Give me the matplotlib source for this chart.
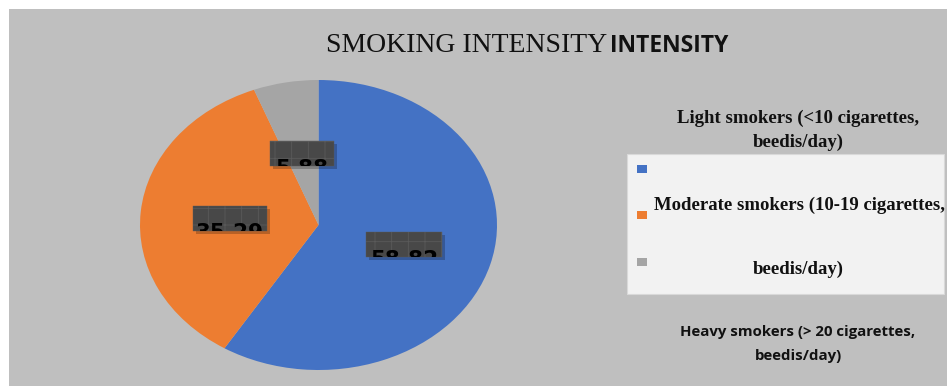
import matplotlib
matplotlib.use("Agg")
import matplotlib.pyplot as plt
from matplotlib.patches import Rectangle
from matplotlib.transforms import IdentityTransform

categories = ["Light smokers (<10 cigarettes, beedis/day)",
              "Moderate smokers (10-19 cigarettes, beedis/day)",
              "Heavy smokers (> 20 cigarettes, beedis/day)"]
values = [58.82, 35.29, 5.88]
value_labels = ["58.82", "35.29", "5.88"]
colors = ["#4472C4", "#ED7D31", "#A5A5A5"]

W, H = 947, 386
fig = plt.figure(figsize=(W / 100, H / 100), dpi=100)
fig.patch.set_facecolor("white")
plt.rcParams["hatch.linewidth"] = 0.6

def fx(x):
    return x / W

def fy(y):
    return 1 - y / H

# grey chart area
fig.add_artist(Rectangle((fx(9), 0), 1 - fx(9), fy(9), transform=fig.transFigure,
                         facecolor="#BFBFBF", edgecolor="none", zorder=0))

# pie (stretched to ellipse)
ax = fig.add_axes([fx(140), fy(370), fx(497) - fx(140), fy(80) - fy(370)])
ax.set_facecolor("none")
wedges, texts = ax.pie(values, colors=colors, startangle=90, counterclock=False,
                       labels=value_labels, labeldistance=0.5,
                       wedgeprops=dict(linewidth=0))
ax.set_aspect("auto")
ax.set_xlim(-1, 1)
ax.set_ylim(-1, 1)
ax.axis("off")

# data label boxes with clipped text
fig.canvas.draw()
widths = [76, 74, 64]
for t, w in zip(texts, widths):
    px, py = ax.transData.transform(t.get_position())
    bh = 25
    shadow = Rectangle((px - w / 2 + 3, py - bh / 2 - 3), w, bh, transform=IdentityTransform(),
                       facecolor="#000000", alpha=0.22, edgecolor="none", zorder=5)
    box = Rectangle((px - w / 2, py - bh / 2), w, bh, transform=IdentityTransform(),
                    facecolor="#484848", edgecolor="#5A5A5A", hatch="+", linewidth=0.3, zorder=6)
    fig.add_artist(shadow)
    fig.add_artist(box)
    t.set_visible(False)
    lab = fig.text(px / W, (py - 21) / H, t.get_text(), ha="center", va="baseline",
                   fontsize=15.5, fontweight="bold", color="black", family="DejaVu Sans", zorder=7)
    lab.set_clip_path(box)

# title
fig.text(fx(326), fy(52), "SMOKING INTENSITY", fontsize=20, family="Liberation Serif",
         color="#111111", va="baseline", ha="left")
fig.text(fx(610), fy(52), "INTENSITY", fontsize=16.5, family="Open Sans", fontweight="bold",
         color="#111111", va="baseline", ha="left")

# legend-like block
fig.add_artist(Rectangle((fx(627), fy(294)), fx(944) - fx(627), fy(154) - fy(294),
                         transform=fig.transFigure, facecolor="#F2F2F2",
                         edgecolor="#D9D9D9", linewidth=0.8, zorder=2))
for c, yy in zip(colors, [169, 215, 262]):
    fig.add_artist(Rectangle((fx(637), fy(yy + 4)), fx(10), 8 / H, transform=fig.transFigure,
                             facecolor=c, edgecolor="none", zorder=3))

serif = dict(family="Liberation Serif", fontweight="bold", fontsize=13.5, color="#111111",
             ha="center", va="center", zorder=4)
l1 = categories[0].split(", ")
fig.text(fx(798), fy(118), l1[0] + ",", **serif)
fig.text(fx(798), fy(142), l1[1], **serif)
l2 = categories[1].split(", ")
fig.text(fx(799), fy(205), l2[0] + ",", **serif)
fig.text(fx(798), fy(269), l2[1], **serif)
l3 = categories[2].split(", ")
sans = dict(family="Open Sans", fontweight="bold", fontsize=10.8, color="#111111",
            ha="center", va="center", zorder=4)
fig.text(fx(798), fy(332), l3[0] + ",", **sans)
fig.text(fx(798), fy(356), l3[1], **sans)

fig.savefig("out.png", dpi=100)
